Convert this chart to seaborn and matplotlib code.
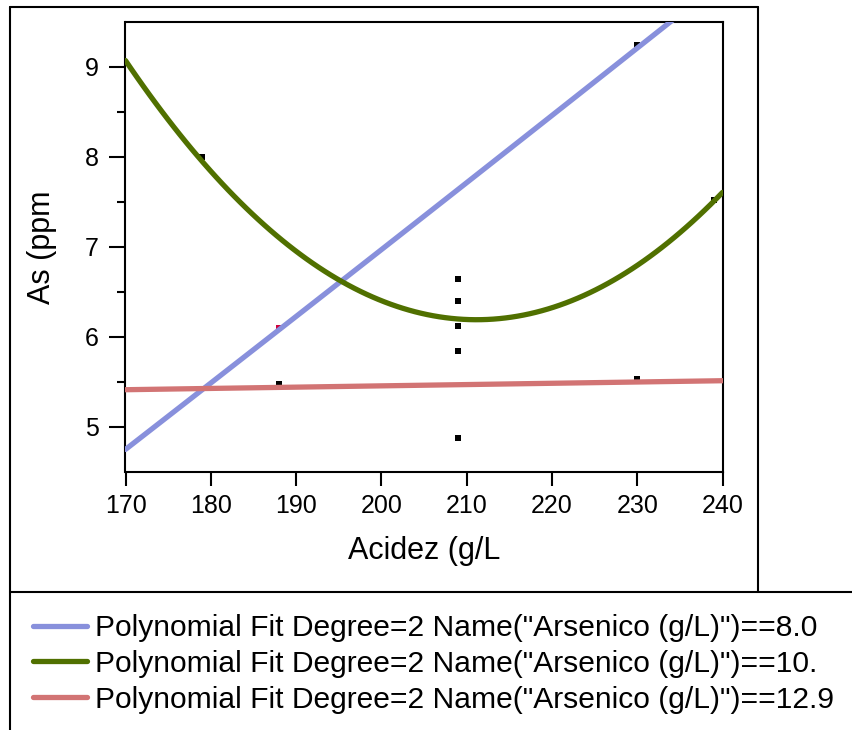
import numpy as np
import pandas as pd
import matplotlib
matplotlib.use('Agg')
import matplotlib.pyplot as plt
from matplotlib.lines import Line2D
import seaborn as sns

# ---- data ----
# points that fix each degree-2 fit (x = Acidez, y = As)
blue_x = [188, 209, 230]
blue_y = [6.08, 7.64, 9.21]
green_x = [179, 209, 239]
green_y = [7.95, 6.20, 7.51]
red_x = [188, 209, 230]
red_y = [5.44, 5.47, 5.50]

# small observation marks visible in the plot
obs_x = [179, 188, 209, 209, 209, 209, 209, 230, 230, 239]
obs_y = [8.00, 5.48, 6.65, 6.40, 6.12, 5.84, 4.88, 9.24, 5.53, 7.52]

labels = ['Polynomial Fit Degree=2 Name("Arsenico (g/L)")==8.0',
          'Polynomial Fit Degree=2 Name("Arsenico (g/L)")==10.',
          'Polynomial Fit Degree=2 Name("Arsenico (g/L)")==12.9']
colors = ['#8890DC', '#507000', '#D27474']

x_ticks = [170, 180, 190, 200, 210, 220, 230, 240]
y_ticks = [5, 6, 7, 8, 9]

sns.set_style('ticks')
plt.rcParams['font.family'] = ['Liberation Sans', 'DejaVu Sans']
plt.rcParams['text.color'] = 'black'
plt.rcParams['axes.labelcolor'] = 'black'
plt.rcParams['xtick.color'] = 'black'
plt.rcParams['ytick.color'] = 'black'

fig = plt.figure(figsize=(8.52, 7.30), dpi=100)
ax = fig.add_axes([125.5 / 852, 1 - 472 / 730, 597 / 852, 450 / 730])
ax.set_xlim(170, 240)
ax.set_ylim(4.5, 9.5)

sns.scatterplot(x=obs_x, y=obs_y, marker='s', s=14, color='black',
                linewidth=0, legend=False, ax=ax, zorder=1)
ax.scatter([188], [6.10], marker='s', s=14, color='#D0003A', linewidth=0, zorder=1)

groups = [(blue_x, blue_y), (green_x, green_y), (red_x, red_y)]
for (gx, gy), col in zip(groups, colors):
    df = pd.DataFrame({'Acidez': gx, 'As': gy})
    sns.regplot(data=df, x='Acidez', y='As', order=2, ci=None, truncate=False,
                scatter=False, ax=ax,
                line_kws=dict(color=col, linewidth=3.8, zorder=3))

ax.set_xlim(170, 240)
ax.set_ylim(4.5, 9.5)
ax.set_xticks(x_ticks)
ax.set_yticks(y_ticks)
ax.set_yticks([5.5, 6.5, 7.5, 8.5], minor=True)
ax.tick_params(axis='x', which='major', length=10, width=1.5, pad=6, labelsize=18)
ax.tick_params(axis='y', which='major', length=11.5, width=1.5, pad=8, labelsize=18)
ax.tick_params(axis='y', which='minor', length=6, width=1.5)
for sp in ax.spines.values():
    sp.set_linewidth(1.5)
    sp.set_color('black')

ax.set_xlabel('Acidez (g/L', fontsize=22)
ax.set_ylabel('As (ppm', fontsize=22)
ax.xaxis.set_label_coords(0.5, -0.142)
ax.yaxis.set_label_coords(-0.115, 0.5)

# outer frame lines like the original report layout
frame = dict(color='black', linewidth=1.5, transform=fig.transFigure)
W, H = 852, 730
fig.add_artist(Line2D([10 / W, 10 / W], [1 - 7 / H, 0], **frame))
fig.add_artist(Line2D([10 / W, 758 / W], [1 - 7 / H, 1 - 7 / H], **frame))
fig.add_artist(Line2D([758 / W, 758 / W], [1 - 7 / H, 1 - 592 / H], **frame))
fig.add_artist(Line2D([10 / W, 1], [1 - 592 / H, 1 - 592 / H], **frame))

handles = [Line2D([], [], color=c, linewidth=3.8) for c in colors]
fig.legend(handles, labels, loc='upper left', bbox_to_anchor=(33 / W, 1 - 614 / H),
           frameon=False, fontsize=21.6, handlelength=1.8, handletextpad=0.26,
           labelspacing=0.26, borderpad=0, borderaxespad=0)

plt.savefig('out.png', dpi=100)
